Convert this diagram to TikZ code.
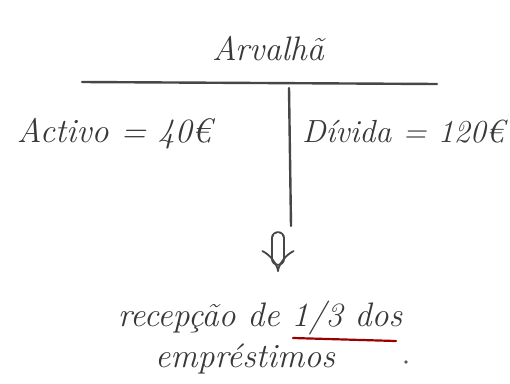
\documentclass[tikz,border=0pt]{standalone}
\usepackage{fontspec}
\usetikzlibrary{arrows.meta,positioning}

\begin{document}
\begin{tikzpicture}[
  x=1pt, y=-1pt,
  >=Implies,
  hand/.style={
    text=black!78,
    font=\fontsize{34}{38}\selectfont\itshape,
    inner sep=0pt,
    anchor=base
  },
  rule/.style={draw=black!72, line width=2.4pt, line cap=round},
  redline/.style={draw=red!60!black, line width=2.2pt, line cap=round},
]

\useasboundingbox (0,0) rectangle (510,383);

% Title of the account.
\node[hand] (title) at (268,60) {Arvalhã};

% T account.
\coordinate (topl) at (82,82);
\coordinate (topr) at (437,84);
\coordinate (mid) at (289,88);
\coordinate (foot) at (291,226);
\draw[rule] (topl) -- (topr);
\draw[rule] (mid) -- (foot);

\node[hand] (asset) at (114,142) {Activo = 40€};
\node[hand, font=\fontsize{32}{36}\selectfont\itshape] (debt) at (403,142) {Dívida = 120€};

% Implication.
\coordinate (arrtop) at (278,238);
\coordinate (arrend) at (278,272);
\draw[rule, line width=1.8pt, double distance=10pt, ->] (arrtop) -- (arrend);

% Consequence.
\node[hand] (event) at (260,326) {recepção de 1/3 dos};
\node[hand] (loans) at (245,367) {empréstimos};
\node[circle, fill=black!65, inner sep=1.3pt] (dot) at (406,362) {};

\coordinate (ulstart) at (293,338);
\coordinate (ulend) at (396,341);
\draw[redline] (ulstart) -- (ulend);

\end{tikzpicture}
\end{document}
